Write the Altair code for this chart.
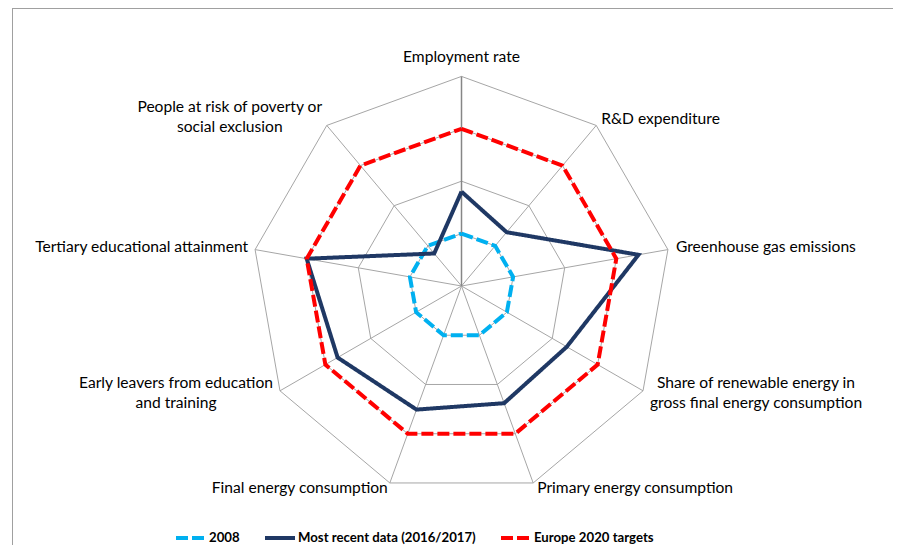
import altair as alt
import pandas as pd

# ---------------- data ----------------
CATEGORIES = [
    "Employment rate",
    "R&D expenditure",
    "Greenhouse gas emissions",
    "Share of renewable energy in\ngross final energy consumption",
    "Primary energy consumption",
    "Final energy consumption",
    "Early leavers from education\nand training",
    "Tertiary educational attainment",
    "People at risk of poverty or\nsocial exclusion",
]
SERIES = ["2008", "Most recent data (2016/2017)", "Europe 2020 targets"]
VALUES_2008 = [1.0, 1.0, 1.0, 1.0, 1.0, 1.0, 1.0, 1.0, 1.0]
VALUES_RECENT = [1.80, 1.34, 3.43, 2.32, 2.38, 2.51, 2.73, 3.0, 0.81]
VALUES_TARGET = [3.0, 3.0, 3.0, 3.0, 3.0, 3.0, 3.0, 3.0, 3.0]
RING_LEVELS = [1, 2, 3, 4]

# ---------------- styles / layout ----------------
COLORS = ["#00B0F0", "#1F3864", "#FF0000"]
DASHES = [[12, 4], [1, 0], [12, 4]]
# label alignment and pixel offset (of the first text line) from the end of each spoke
LABEL_ALIGN = ["center", "left", "left", "center", "left", "right", "center", "right", "center"]
LABEL_DX = [0, 5, 8, 113, 4, -2, -104, -7, -97]
LABEL_DY = [-19, -6, -3, -8, 5, 5, -8, -3, -18]
FONT = "Lato"
W, H = 885, 537
PPU = 52.4            # pixels per value unit
CX, CY = 453.5, 278   # radar centre inside the plot area
N = len(CATEGORIES)
OUTER = max(RING_LEVELS)

xs = alt.Scale(domain=[-CX / PPU, (W - CX) / PPU], nice=False, zero=False)
ys = alt.Scale(domain=[-(H - CY) / PPU, CY / PPU], nice=False, zero=False)

ANG = f"2*PI*(datum.idx % {N})/{N}"

# series table (closed polygons)
rows = []
for s, vals in zip(SERIES, [VALUES_2008, VALUES_RECENT, VALUES_TARGET]):
    for j in range(N + 1):
        rows.append({"series": s, "idx": j, "value": vals[j % N]})
series_df = pd.DataFrame(rows)

ring_rows = []
for lv in RING_LEVELS:
    for j in range(N + 1):
        ring_rows.append({"level": lv, "idx": j, "value": lv})
ring_df = pd.DataFrame(ring_rows)

spoke_df = pd.DataFrame({"idx": list(range(N)), "value": [OUTER] * N})

label_df = pd.DataFrame({
    "idx": list(range(N)),
    "label": CATEGORIES,
    "align": LABEL_ALIGN,
    "dx": LABEL_DX,
    "dy": LABEL_DY,
})


def polar(chart):
    return chart.transform_calculate(
        ang=ANG,
        px=f"datum.value*sin({ANG})",
        py=f"datum.value*cos({ANG})",
        zero="0",
    )


X = alt.X("px:Q", scale=xs, axis=None)
Y = alt.Y("py:Q", scale=ys, axis=None)

rings = polar(alt.Chart(ring_df)).mark_line(
    color="#A6A6A6", strokeWidth=1
).encode(x=X, y=Y, detail="level:N", order="idx:Q")

spokes = polar(alt.Chart(spoke_df)).transform_filter("datum.idx > 0").mark_rule(
    color="#A6A6A6", strokeWidth=1
).encode(x=alt.X("zero:Q", scale=xs, axis=None), y=alt.Y("zero:Q", scale=ys, axis=None),
         x2="px:Q", y2="py:Q")

spoke0 = polar(alt.Chart(spoke_df)).transform_filter("datum.idx == 0").mark_rule(
    color="#868686", strokeWidth=1.5
).encode(x=alt.X("zero:Q", scale=xs, axis=None), y=alt.Y("zero:Q", scale=ys, axis=None),
         x2="px:Q", y2="py:Q")

lines = polar(alt.Chart(series_df)).mark_line(
    strokeWidth=4, strokeCap="butt", strokeJoin="miter"
).encode(
    x=X, y=Y,
    color=alt.Color("series:N", scale=alt.Scale(domain=SERIES, range=COLORS), title=None),
    strokeDash=alt.StrokeDash("series:N", scale=alt.Scale(domain=SERIES, range=DASHES), title=None),
    detail="series:N",
    order="idx:Q",
)

label_layers = []
for al in ["left", "center", "right"]:
    t = alt.Chart(label_df).transform_filter(f"datum.align == '{al}'").transform_calculate(
        ang=ANG,
        lx=f"{OUTER}*sin({ANG}) + datum.dx/{PPU}",
        ly=f"{OUTER}*cos({ANG}) - datum.dy/{PPU}",
    ).mark_text(
        align=al, baseline="middle", font=FONT, fontSize=15.6, lineHeight=20,
        lineBreak="\n", color="#000000"
    ).encode(
        x=alt.X("lx:Q", scale=xs, axis=None),
        y=alt.Y("ly:Q", scale=ys, axis=None),
        text="label:N",
    )
    label_layers.append(t)

one = pd.DataFrame({"k": [0]})
frame_top = alt.Chart(one).mark_rule(color="#A0A0A0", strokeWidth=1).encode(
    x=alt.value(4), x2=alt.value(W), y=alt.value(0.5))
frame_left = alt.Chart(one).mark_rule(color="#A0A0A0", strokeWidth=1).encode(
    x=alt.value(4.5), y=alt.value(0), y2=alt.value(H))

chart = alt.layer(
    frame_top, frame_left, rings, spokes, spoke0, lines, *label_layers
).properties(
    width=W, height=H, padding=0, autosize=alt.AutoSizeParams(type="none")
).configure_view(stroke=None).configure_legend(
    orient="none", legendX=166, legendY=513, direction="horizontal",
    symbolType="stroke", symbolSize=900, symbolStrokeWidth=4,
    labelFont=FONT, labelFontWeight="bold", labelFontSize=13.2, labelColor="#000000",
    labelOffset=1, labelLimit=400, columnPadding=17, padding=0,
)

chart.save("out.html", embed_options={"renderer": "svg", "actions": False})
